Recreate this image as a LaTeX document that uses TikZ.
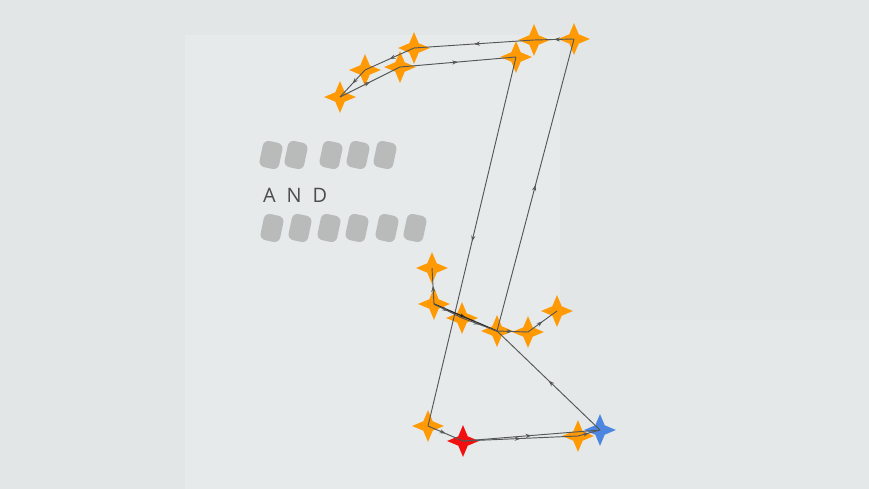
\documentclass[tikz,border=0pt]{standalone}
\usepackage{fontspec}
\newfontfamily\andfont[LetterSpace=55]{Open Sans}
\usetikzlibrary{shapes.geometric,arrows.meta,decorations.markings}
\definecolor{bggrey}{HTML}{E3E6E6}
\definecolor{panelgrey}{HTML}{E8EBEB}
\definecolor{wporange}{HTML}{FF9A05}
\definecolor{wpred}{HTML}{F20F0F}
\definecolor{wpblue}{HTML}{4C86E0}
\definecolor{legline}{HTML}{555757}
\begin{document}
\begin{tikzpicture}[x=0.03cm, y=-0.03cm,
        wp/.style={star, star points=4, star point ratio=0.42, shape border rotate=45, minimum size=0.4cm, inner sep=0pt, fill=wporange, draw=none},
        leg/.style={draw=legline, line width=0.8pt, postaction={decorate},
            decoration={markings, mark=at position 0.5 with {\arrow{Stealth[length=5pt,width=3.5pt]}}}},
        smudge/.style={fill=gray!70, opacity=0.7, rounded corners=5pt, minimum width=0.6cm, minimum height=0.8cm, rotate=-12, inner sep=0pt}
    ]
    % background
    \fill[bggrey] (0,0) rectangle (869,489);
    \fill[panelgrey, opacity=0.8] (185,35) rectangle (560,489);
    \fill[panelgrey, opacity=0.5] (560,320) rectangle (869,489);
    \useasboundingbox (0,0) rectangle (869,489);

    % hidden words
    \foreach \x [count=\i] in {271,296,331,358,385}
        \node[smudge] (top\i) at (\x,155) {};
    \node[text=black!70, anchor=west, font=\andfont\fontsize{17}{17}\selectfont] (and) at (259,195) {AND};
    \foreach \x [count=\i] in {272,300,329,357,387,415}
        \node[smudge] (bot\i) at (\x,228) {};

    % waypoints
    \node[wp] (A) at (340,97) {};
    \node[wp] (B) at (365,70) {};
    \node[wp] (C) at (400,67) {};
    \node[wp] (D) at (414,48) {};
    \node[wp] (E) at (516,57) {};
    \node[wp] (F) at (534,40) {};
    \node[wp] (G) at (574,39) {};
    \node[wp] (H) at (432,268) {};
    \node[wp] (I) at (434,304) {};
    \node[wp] (J) at (462,318) {};
    \node[wp] (K) at (497,331) {};
    \node[wp] (L) at (528,332) {};
    \node[wp] (M) at (557,311) {};
    \node[wp] (N) at (428,426) {};
    \node[wp] (O) at (578,436) {};
    \node[wp, fill=wpred] (start) at (463,441) {};
    \node[wp, fill=wpblue] (goal) at (600,430) {};

    % route
    \draw[leg] (G.center) -- (F.center);
    \draw[leg] (F.center) -- (D.center);
    \draw[leg] (D.center) -- (B.center);
    \draw[leg] (B.center) -- (A.center);
    \draw[leg] (A.center) -- (C.center);
    \draw[leg] (C.center) -- (E.center);
    \draw[leg] (E.center) -- (N.center);
    \draw[leg] (N.center) -- (start.center);
    \draw[leg] (start.center) -- (O.center);
    \draw[leg] (O.center) -- (goal.center);
    \draw[leg] (start.center) -- (goal.center);
    \draw[leg] (goal.center) -- (K.center);
    \draw[leg] (K.center) -- (G.center);
    \draw[leg] (I.center) -- (H.center);
    \draw[leg, draw=black!85, line width=1.1pt] (I.center) -- (K.center);
    \draw[leg] (I.center) -- (J.center);
    \draw[leg] (J.center) -- (K.center);
    \draw[leg] (K.center) -- (L.center);
    \draw[leg] (L.center) -- (M.center);
\end{tikzpicture}
\end{document}
